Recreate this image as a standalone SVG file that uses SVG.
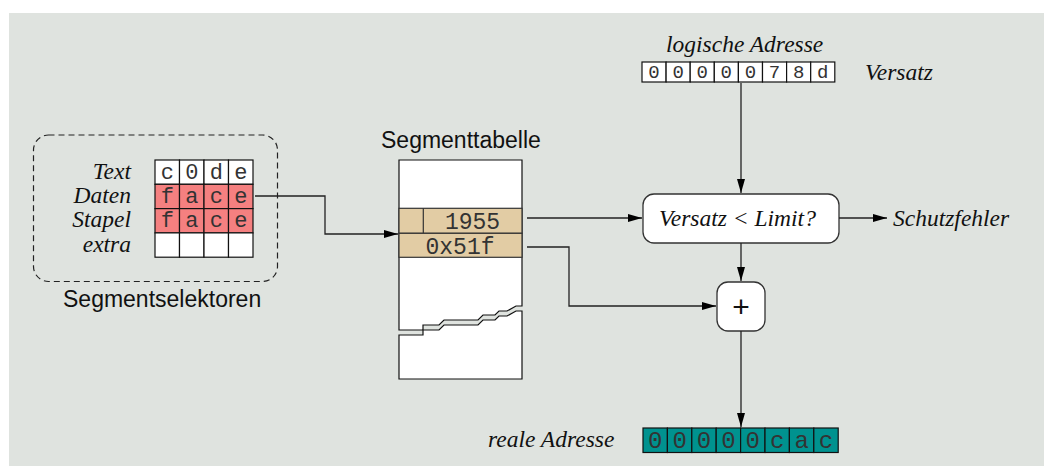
<svg xmlns="http://www.w3.org/2000/svg" width="1044" height="466" viewBox="0 0 1044 466">
<defs>
<marker id="ah" viewBox="0 0 14 8" refX="14" refY="4" markerWidth="14" markerHeight="8" markerUnits="userSpaceOnUse" orient="auto">
<path d="M0,0 L14,4 L0,8 Z" fill="#000"/>
</marker>
</defs>
<style>
.ti{font-family:"Liberation Serif","Times New Roman",serif;font-style:italic;font-size:23.5px;fill:#111}
.sa{font-family:"Liberation Sans",Arial,sans-serif;font-size:23px;fill:#111}
.mo{font-family:"Liberation Mono","Courier New",monospace;fill:#333;text-anchor:middle}
.cell{stroke:#111;stroke-width:1.2}
.conn{fill:none;stroke:#222;stroke-width:1.3}
.box{fill:#fff;stroke:#333;stroke-width:1.3}
</style>
<rect x="9" y="13" width="1035" height="453" fill="#dfe3df"/>

<g id="logische-adresse">
<text class="ti" x="666" y="52">logische Adresse</text>
<g class="cell" fill="#fff">
<rect x="642" y="62" width="24.1" height="20"/><rect x="666.1" y="62" width="24.1" height="20"/><rect x="690.2" y="62" width="24.1" height="20"/><rect x="714.3" y="62" width="24.1" height="20"/><rect x="738.4" y="62" width="24.1" height="20"/><rect x="762.5" y="62" width="24.1" height="20"/><rect x="786.6" y="62" width="24.1" height="20"/><rect x="810.7" y="62" width="24.1" height="20"/>
</g>
<g class="mo" font-size="19">
<text x="654" y="78">0</text><text x="678.1" y="78">0</text><text x="702.2" y="78">0</text><text x="726.3" y="78">0</text><text x="750.4" y="78">0</text><text x="774.5" y="78">7</text><text x="798.6" y="78">8</text><text x="822.7" y="78">d</text>
</g>
<text class="ti" x="865" y="80">Versatz</text>
</g>

<g id="segmentselektoren">
<rect x="33.5" y="135" width="244" height="146.5" rx="15" fill="none" stroke="#222" stroke-width="1.2" stroke-dasharray="6,4"/>
<g class="ti" text-anchor="end">
<text x="131" y="179">Text</text><text x="131" y="203">Daten</text><text x="131" y="227">Stapel</text><text x="131" y="252">extra</text>
</g>
<g class="cell">
<rect x="155" y="160" width="24.5" height="24.3" fill="#fff"/><rect x="179.5" y="160" width="24.5" height="24.3" fill="#fff"/><rect x="204" y="160" width="24.5" height="24.3" fill="#fff"/><rect x="228.5" y="160" width="24.5" height="24.3" fill="#fff"/>
<rect x="155" y="184.3" width="24.5" height="24.3" fill="#f58080"/><rect x="179.5" y="184.3" width="24.5" height="24.3" fill="#f58080"/><rect x="204" y="184.3" width="24.5" height="24.3" fill="#f58080"/><rect x="228.5" y="184.3" width="24.5" height="24.3" fill="#f58080"/>
<rect x="155" y="208.6" width="24.5" height="24.3" fill="#f58080"/><rect x="179.5" y="208.6" width="24.5" height="24.3" fill="#f58080"/><rect x="204" y="208.6" width="24.5" height="24.3" fill="#f58080"/><rect x="228.5" y="208.6" width="24.5" height="24.3" fill="#f58080"/>
<rect x="155" y="232.9" width="24.5" height="24.3" fill="#fff"/><rect x="179.5" y="232.9" width="24.5" height="24.3" fill="#fff"/><rect x="204" y="232.9" width="24.5" height="24.3" fill="#fff"/><rect x="228.5" y="232.9" width="24.5" height="24.3" fill="#fff"/>
</g>
<g class="mo" font-size="22">
<text x="167.3" y="179">c</text><text x="191.8" y="179">0</text><text x="216.3" y="179">d</text><text x="240.8" y="179">e</text>
<text x="167.3" y="203">f</text><text x="191.8" y="203">a</text><text x="216.3" y="203">c</text><text x="240.8" y="203">e</text>
<text x="167.3" y="227">f</text><text x="191.8" y="227">a</text><text x="216.3" y="227">c</text><text x="240.8" y="227">e</text>
</g>
<text class="sa" x="63" y="307">Segmentselektoren</text>
</g>

<g id="segmenttabelle">
<text class="sa" x="381" y="148">Segmenttabelle</text>
<path d="M399,160 H522 V306 H516 L507,311 H499 L495,315 H483 L478,320 H444 L439,325 H423 V330 H399 Z" fill="#fff" stroke="#111" stroke-width="1.2"/>
<path d="M399,335 H423 V330 H439 L444,325 H478 L483,320 H495 L499,316 H507 L516,311 H522 V379 H399 Z" fill="#fff" stroke="#111" stroke-width="1.2"/>
<rect x="399" y="208.3" width="123" height="25" fill="#e2cca4" stroke="#333" stroke-width="1.2"/>
<line x1="423.3" y1="208.3" x2="423.3" y2="233.3" stroke="#333" stroke-width="1.2"/>
<rect x="399" y="233.3" width="123" height="24" fill="#e2cca4" stroke="#333" stroke-width="1.2"/>
<text class="mo" font-size="23" x="472.5" y="229">1955</text>
<text class="mo" font-size="23" x="460" y="253.5">0x51f</text>
</g>

<g id="pruefung">
<rect class="box" x="643" y="194" width="196" height="49" rx="11"/>
<text class="ti" x="659" y="226">Versatz &lt; Limit?</text>
</g>

<g id="schutzfehler">
<text class="ti" x="893" y="226">Schutzfehler</text>
</g>

<g id="addierer">
<rect class="box" x="717" y="282" width="48" height="49" rx="11"/>
<text x="741" y="317" font-family="Liberation Sans, Arial, sans-serif" font-size="30" text-anchor="middle" fill="#111">+</text>
</g>

<g id="reale-adresse">
<text class="ti" x="488" y="447">reale Adresse</text>
<g class="cell" fill="#00928f">
<rect x="643" y="428" width="24.4" height="24.5"/><rect x="667.4" y="428" width="24.4" height="24.5"/><rect x="691.8" y="428" width="24.4" height="24.5"/><rect x="716.2" y="428" width="24.4" height="24.5"/><rect x="740.6" y="428" width="24.4" height="24.5"/><rect x="765" y="428" width="24.4" height="24.5"/><rect x="789.4" y="428" width="24.4" height="24.5"/><rect x="813.8" y="428" width="24.4" height="24.5"/>
</g>
<g class="mo" font-size="24">
<text x="655.2" y="447.5">0</text><text x="679.6" y="447.5">0</text><text x="704" y="447.5">0</text><text x="728.4" y="447.5">0</text><text x="752.8" y="447.5">0</text><text x="777.2" y="447.5">c</text><text x="801.6" y="447.5">a</text><text x="826" y="447.5">c</text>
</g>
</g>

<g id="connectors">
<path class="conn" d="M255,196 H325 V234 H398" marker-end="url(#ah)"/>
<path class="conn" d="M527,218 H642" marker-end="url(#ah)"/>
<path class="conn" d="M527,247 H569 V306 H716" marker-end="url(#ah)"/>
<path class="conn" d="M741,83 V193" marker-end="url(#ah)"/>
<path class="conn" d="M741,243 V281" marker-end="url(#ah)"/>
<path class="conn" d="M741,331 V427" marker-end="url(#ah)"/>
<path class="conn" d="M839,218 H887" marker-end="url(#ah)"/>
</g>
</svg>
